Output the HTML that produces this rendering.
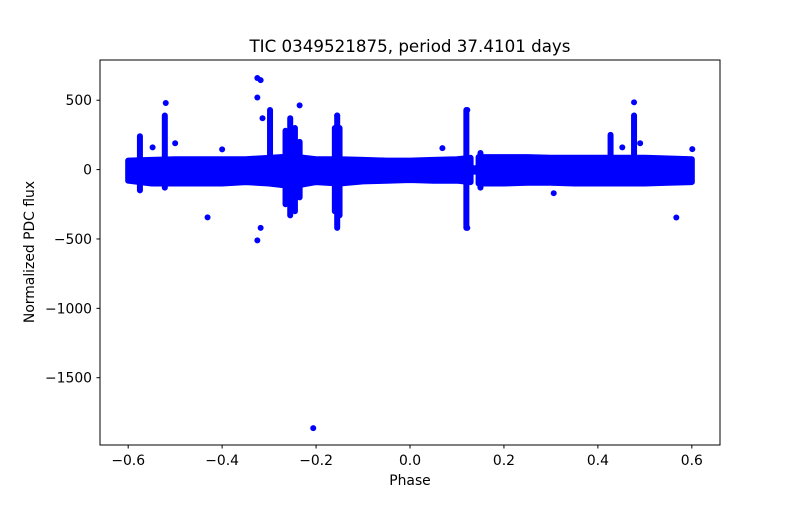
<!DOCTYPE html>
<html><head><meta charset="utf-8"><style>
body{margin:0;background:#fff;}
svg text{font-family:"DejaVu Sans","Liberation Sans",sans-serif;fill:#000;}
</style></head><body>
<svg id="chart" width="800" height="500" viewBox="0 0 800 500">
<rect width="800" height="500" fill="#fff"/>
<text x="410" y="52" font-size="16.7" text-anchor="middle">TIC 0349521875, period 37.4101 days</text>
<g id="marks"></g>
<rect x="100" y="60" width="620" height="385" fill="none" stroke="#000" stroke-width="1"/>
<g id="xticks"></g>
<g id="yticks"></g>
<text x="410" y="485" font-size="13.9" text-anchor="middle">Phase</text>
<text x="34" y="252" font-size="13.9" text-anchor="middle" transform="rotate(-90 34 252)">Normalized PDC flux</text>
</svg>
<script>
// Band envelope (dense data core)
const bandPhase = [-0.6,-0.55,-0.5,-0.45,-0.4,-0.35,-0.3,-0.25,-0.2,-0.15,-0.1,-0.05,0.0,0.05,0.1,0.129,0.129,0.146,0.146,0.2,0.25,0.3,0.35,0.4,0.45,0.5,0.55,0.6];
const bandUpper = [65,70,75,75,75,75,85,95,75,75,70,65,65,70,75,85,10,10,90,90,90,85,85,85,85,85,80,75];
const bandLower = [-80,-100,-100,-100,-100,-90,-100,-120,-90,-100,-85,-80,-75,-80,-80,-90,-15,-15,-100,-100,-95,-95,-100,-100,-100,-100,-95,-90];
// Vertical excursion columns
const colPhase = [-0.575,-0.522,-0.298,-0.265,-0.255,-0.245,-0.235,-0.16,-0.155,-0.15,0.12,0.427,0.477,0.15];
const colLow   = [-150,-130,-50,-250,-330,-300,-200,-300,-420,-330,-420,-100,-100,-130];
const colHigh  = [240,390,430,280,370,300,200,300,390,300,430,250,390,120];
// Isolated outlier points
const ptPhase = [-0.52,-0.548,-0.5,-0.431,-0.4,-0.325,-0.318,-0.325,-0.325,-0.318,-0.314,-0.235,-0.155,-0.206,0.122,0.122,0.477,0.567,0.601,0.069,0.306,0.49,0.452];
const ptFlux  = [480,160,190,-344,146,660,645,520,-510,-420,370,463,390,-1863,430,-420,485,-345,148,155,-170,190,160];
const xTicks = [-0.6,-0.4,-0.2,0.0,0.2,0.4,0.6];
const xTickLabels = ["\u22120.6","\u22120.4","\u22120.2","0.0","0.2","0.4","0.6"];
const yTicks = [500,0,-500,-1000,-1500];
const yTickLabels = ["500","0","\u2212500","\u22121000","\u22121500"];

const X0=-0.66,X1=0.66,Y0=-1985,Y1=790;
const xs=v=>100+(v-X0)/(X1-X0)*620;
const ys=v=>60+(Y1-v)/(Y1-Y0)*385;
const NS="http://www.w3.org/2000/svg";
const mk=(t,a,p)=>{const e=document.createElementNS(NS,t);for(const k in a)e.setAttribute(k,a[k]);p.appendChild(e);return e;};
const marks=document.getElementById('marks');

let pts=bandPhase.map((p,i)=>xs(p)+','+ys(bandUpper[i]));
for(let i=bandPhase.length-1;i>=0;i--)pts.push(xs(bandPhase[i])+','+ys(bandLower[i]));
const band=mk('polygon',{points:pts.join(' '),fill:'#0000ff',stroke:'#0000ff','stroke-width':6,'stroke-linejoin':'round'},marks);



colPhase.forEach((p,i)=>{
  const l=mk('line',{x1:xs(p),x2:xs(p),y1:ys(colLow[i]),y2:ys(colHigh[i]),stroke:'#0000ff','stroke-width':6,'stroke-linecap':'round'},marks);
  
  
});
ptPhase.forEach((p,i)=>{
  const c=mk('circle',{cx:xs(p),cy:ys(ptFlux[i]),r:3,fill:'#0000ff'},marks);
  
  
});

const xg=document.getElementById('xticks');
xTicks.forEach((v,i)=>{
  const x=xs(v);
  const t=mk('line',{x1:x,x2:x,y1:445,y2:448.5,stroke:'#000'},xg);
  
  
  const tx=mk('text',{x:x,y:465,'font-size':13.9,'text-anchor':'middle'},xg);
  tx.textContent=xTickLabels[i];
  
  
});
const yg=document.getElementById('yticks');
yTicks.forEach((v,i)=>{
  const y=ys(v);
  const t=mk('line',{x1:96.5,x2:100,y1:y,y2:y,stroke:'#000'},yg);
  
  
  const tx=mk('text',{x:92,y:y+5,'font-size':13.9,'text-anchor':'end'},yg);
  tx.textContent=yTickLabels[i];
  
  
});
</script>
</body></html>
